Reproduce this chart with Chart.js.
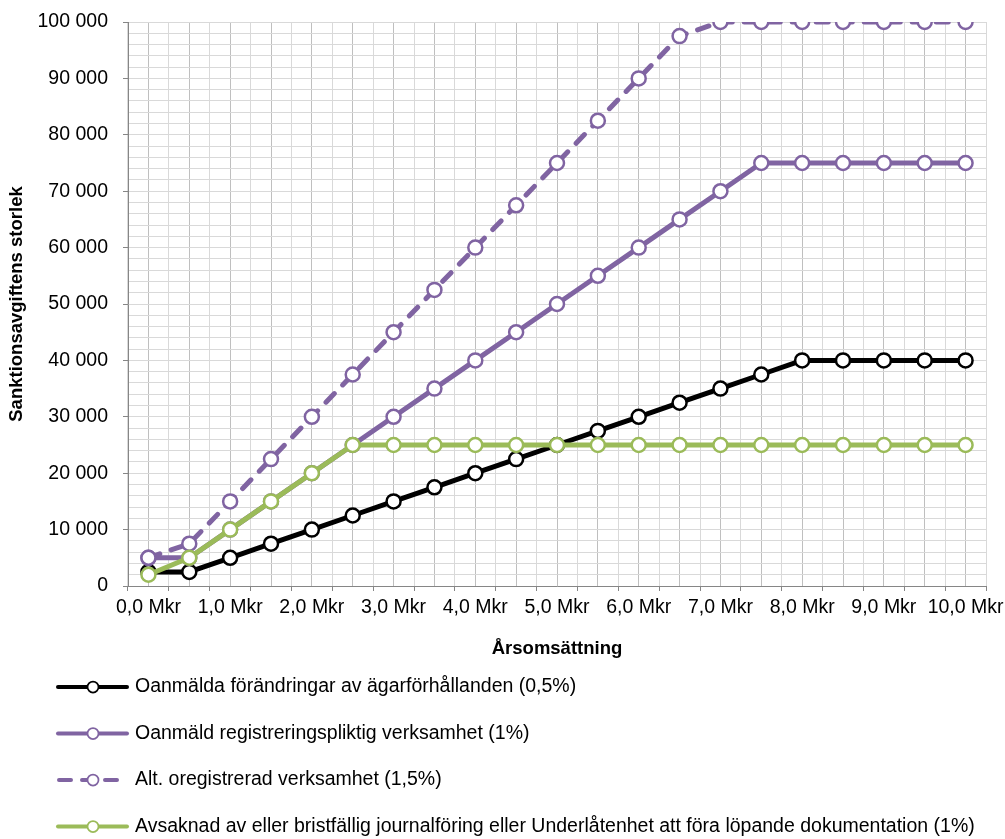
<!DOCTYPE html>
<html>
<head>
<meta charset="utf-8">
<script src="https://cdn.jsdelivr.net/npm/chart.js@4/dist/chart.umd.min.js"></script>
<style>
  html, body { margin: 0; padding: 0; background: #fff; }
  #wrap { width: 1005px; height: 839px; }
</style>
</head>
<body>
<div id="wrap"><canvas id="c" width="1005" height="839"></canvas></div>
<script>
// ---- Data ----
const categories = ["0,0 Mkr","0,5 Mkr","1,0 Mkr","1,5 Mkr","2,0 Mkr","2,5 Mkr","3,0 Mkr","3,5 Mkr","4,0 Mkr","4,5 Mkr","5,0 Mkr","5,5 Mkr","6,0 Mkr","6,5 Mkr","7,0 Mkr","7,5 Mkr","8,0 Mkr","8,5 Mkr","9,0 Mkr","9,5 Mkr","10,0 Mkr"];
const agarforhallanden = [2500,2500,5000,7500,10000,12500,15000,17500,20000,22500,25000,27500,30000,32500,35000,37500,40000,40000,40000,40000,40000];
const registreringspliktig = [5000,5000,10000,15000,20000,25000,30000,35000,40000,45000,50000,55000,60000,65000,70000,75000,75000,75000,75000,75000,75000];
const oregistrerad = [5000,7500,15000,22500,30000,37500,45000,52500,60000,67500,75000,82500,90000,97500,100000,100000,100000,100000,100000,100000,100000];
const journalforing = [2000,5000,10000,15000,20000,25000,25000,25000,25000,25000,25000,25000,25000,25000,25000,25000,25000,25000,25000,25000,25000];
const seriesNames = [
  "Oanmälda förändringar av ägarförhållanden (0,5%)",
  "Oanmäld registreringspliktig verksamhet (1%)",
  "Alt. oregistrerad verksamhet (1,5%)",
  "Avsaknad av eller bristfällig journalföring eller Underlåtenhet att föra löpande dokumentation (1%)"
];
const yTitle = "Sanktionsavgiftens storlek";
const xTitle = "Årsomsättning";

// ---- Style ----
const FONT = '"Liberation Sans", Arial, sans-serif';
const BLACK = '#000000', PURPLE = '#8064A2', GREEN = '#9BBB59';
const GRID_LIGHT = '#d9d9d9', GRID_DARK = '#bfbfbf', AXIS = '#868686';

function fmt(v) { return String(v).replace(/\B(?=(\d{3})+(?!\d))/g, ' '); }

function ds(label, data, color, order, dash) {
  return {
    label, data, order,
    borderColor: color, backgroundColor: color,
    borderWidth: 5,
    borderDash: dash || [],
    borderCapStyle: dash ? 'round' : 'butt',
    borderJoinStyle: 'round',
    pointRadius: 7, pointHoverRadius: 7,
    pointBorderWidth: 2.5,
    pointBackgroundColor: '#ffffff',
    pointBorderColor: color,
    tension: 0, fill: false
  };
}

const legendPlugin = {
  id: 'stackedLegend',
  afterDraw(chart) {
    const ctx = chart.ctx;
    const top = chart.scales.x.bottom;
    chart.data.datasets.forEach((d, i) => {
      const y = top + 27 + i * 46.5;
      ctx.save();
      ctx.strokeStyle = d.borderColor;
      ctx.lineWidth = 4;
      const dashed = d.borderDash && d.borderDash.length;
      ctx.lineCap = 'round';
      ctx.setLineDash(dashed ? [12, 11] : []);
      ctx.beginPath();
      ctx.moveTo(dashed ? 59 : 58, y);
      ctx.lineTo(dashed ? 120 : 127, y);
      ctx.stroke();
      ctx.setLineDash([]);
      ctx.beginPath();
      ctx.arc(93, y, 5.5, 0, Math.PI * 2);
      ctx.fillStyle = '#fff';
      ctx.fill();
      ctx.lineWidth = 1.75;
      ctx.stroke();
      ctx.fillStyle = '#000';
      ctx.font = '19.5px ' + FONT;
      ctx.textBaseline = 'middle';
      ctx.textAlign = 'left';
      ctx.fillText(d.label, 135, y);
      ctx.restore();
    });
  }
};

new Chart(document.getElementById('c'), {
  type: 'line',
  data: {
    labels: categories,
    datasets: [
      ds(seriesNames[0], agarforhallanden, BLACK, 4),
      ds(seriesNames[1], registreringspliktig, PURPLE, 3),
      ds(seriesNames[2], oregistrerad, PURPLE, 2, [12, 12]),
      ds(seriesNames[3], journalforing, GREEN, 1)
    ]
  },
  options: {
    responsive: false,
    animation: false,
    devicePixelRatio: 1,
    layout: { padding: { left: 0, right: 19, top: 22, bottom: 179 } },
    plugins: { legend: { display: false }, tooltip: { enabled: false } },
    scales: {
      x: {
        type: 'category',
        position: 'bottom',
        offset: true,
        grid: { offset: true, color: GRID_LIGHT, lineWidth: 1, tickColor: AXIS, tickLength: 5, drawTicks: true },
        border: { display: true, color: AXIS, width: 1 },
        ticks: {
          autoSkip: false, maxRotation: 0, minRotation: 0, padding: 5, color: '#000',
          font: { family: FONT, size: 19.5 },
          callback: function(v, i) { return i % 2 === 0 ? this.getLabelForValue(v) : ''; }
        },
        title: { display: true, text: xTitle, color: '#000', padding: { top: 0, bottom: 0 }, font: { family: FONT, size: 18.5, weight: 'bold' } },
        afterFit: s => { s.height = 74; s.paddingLeft = 0; s.paddingRight = 0; }
      },
      xc: {
        type: 'category',
        position: 'bottom',
        offset: true,
        grid: { offset: false, color: GRID_DARK, lineWidth: 1, drawTicks: false },
        border: { display: false },
        ticks: { display: false },
        afterFit: s => { s.height = 0; s.paddingLeft = 0; s.paddingRight = 0; }
      },
      y: {
        type: 'linear',
        min: 0, max: 100000,
        grid: {
          color: GRID_LIGHT, lineWidth: 1, tickLength: 5,
          tickColor: c => (c.tick && c.tick.value % 10000 === 0) ? AXIS : 'rgba(0,0,0,0)'
        },
        border: { display: true, color: AXIS, width: 1 },
        ticks: {
          stepSize: 2000, maxTicksLimit: 100, autoSkip: false, padding: 15, color: '#000',
          font: { family: FONT, size: 19.5 },
          callback: v => v % 10000 === 0 ? fmt(v) : ''
        },
        title: { display: true, text: yTitle, color: '#000', padding: { top: 6, bottom: 0 }, font: { family: FONT, size: 18.5, weight: 'bold' } },
        afterFit: s => { s.width = 128; s.paddingTop = 0; s.paddingBottom = 0; }
      }
    }
  },
  plugins: [legendPlugin]
});
</script>
</body>
</html>
